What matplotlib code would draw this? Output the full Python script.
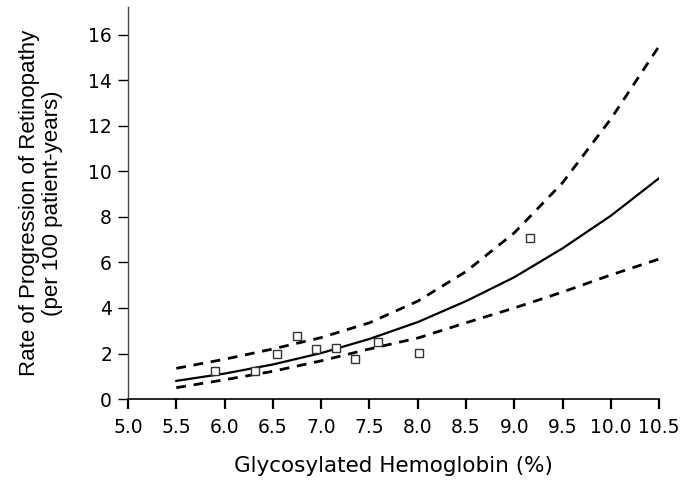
"""Retinopathy progression rate versus glycosylated hemoglobin."""
import matplotlib

matplotlib.use("Agg")
import matplotlib.pyplot as plt

plt.rcParams["font.family"] = ["DejaVu Sans"]

# fitted curve and 95% band at 0.5 steps
hba1c_grid = [5.5, 6.0, 6.5, 7.0, 7.5, 8.0, 8.5, 9.0, 9.5, 10.0, 10.5]
rate_fit = [0.80, 1.12, 1.52, 2.02, 2.64, 3.38, 4.30, 5.35, 6.62, 8.05, 9.70]
rate_upper = [1.35, 1.75, 2.20, 2.70, 3.35, 4.30, 5.60, 7.30, 9.50, 12.3, 15.5]
rate_lower = [0.50, 0.85, 1.22, 1.68, 2.20, 2.68, 3.35, 4.00, 4.70, 5.45, 6.15]

# observed group rates
obs_hba1c = [5.90, 6.31, 6.54, 6.75, 6.95, 7.15, 7.35, 7.59, 8.01, 9.16]
obs_rate = [1.23, 1.24, 2.00, 2.78, 2.22, 2.25, 1.74, 2.51, 2.03, 7.06]

x_ticks = [5.0, 5.5, 6.0, 6.5, 7.0, 7.5, 8.0, 8.5, 9.0, 9.5, 10.0, 10.5]
y_ticks = [0, 2, 4, 6, 8, 10, 12, 14, 16]

fig = plt.figure(figsize=(6.81, 4.82), dpi=100)
ax = fig.add_axes([0.188, 0.172, 0.780, 0.813])

ax.plot(hba1c_grid, rate_fit, color="black", linewidth=1.6)
for band in (rate_upper, rate_lower):
    ax.plot(hba1c_grid, band, color="black", linewidth=2.0, dashes=(3.5, 2.8))
ax.plot(obs_hba1c, obs_rate, linestyle="none", marker="s", markersize=5.5,
        markerfacecolor="white", markeredgecolor="#333333", markeredgewidth=1.0)

ax.set_xlim(5.0, 10.5)
ax.set_ylim(0, 17.2)
ax.set_xticks(x_ticks)
ax.set_xticklabels([f"{t:.1f}" for t in x_ticks])
ax.set_yticks(y_ticks)

for side in ("top", "right"):
    ax.spines[side].set_visible(False)
ax.spines["left"].set_linewidth(1.0)
ax.spines["left"].set_color("#444444")
ax.spines["bottom"].set_linewidth(1.2)
ax.tick_params(axis="x", direction="out", length=7.5, width=1.6, labelsize=13.5, pad=6)
ax.tick_params(axis="y", direction="out", length=7.5, width=1.0, labelsize=13.5, pad=4)

ax.set_xlabel("Glycosylated Hemoglobin (%)", fontsize=15.5)
ax.xaxis.set_label_coords(0.5, -0.146)
ax.set_ylabel("Rate of Progression of Retinopathy\n(per 100 patient-years)",
              fontsize=16, family=["Liberation Sans", "DejaVu Sans"], linespacing=1.12)
ax.yaxis.set_label_coords(-0.122, 0.5)

fig.savefig("out.png", dpi=100)
